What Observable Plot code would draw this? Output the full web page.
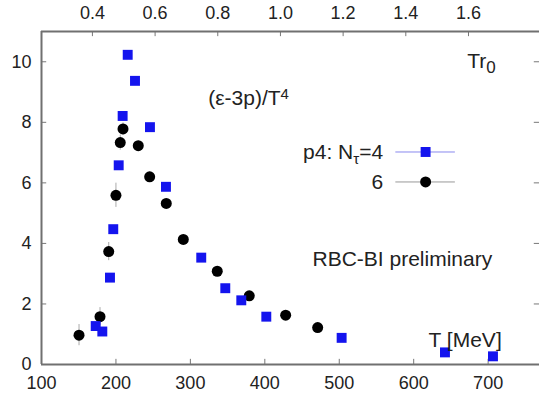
<!DOCTYPE html>
<html>
<head>
<meta charset="utf-8">
<script src="https://cdn.jsdelivr.net/npm/d3@7"></script>
<script src="https://cdn.jsdelivr.net/npm/@observablehq/plot@0.6"></script>
<style>
  html, body { margin: 0; padding: 0; background: #fff; }
  #chart svg { display: block; }
</style>
</head>
<body>
<div id="chart"></div>
<script>
// ---- data ----
const nt4T = [172.8, 181.7, 192.0, 196.4, 203.7, 209.0, 215.8, 225.6, 245.7, 267.2, 314.6, 346.9, 368.4, 402.0, 503.2, 642.0, 706.5];
const nt4V = [1.27, 1.09, 2.87, 4.47, 6.58, 8.21, 10.23, 9.37, 7.84, 5.87, 3.53, 2.52, 2.12, 1.58, 0.88, 0.40, 0.27];
const nt6T = [150.4, 178.6, 190.3, 200.0, 205.8, 209.5, 230.0, 245.3, 267.6, 290.5, 336.1, 379.1, 428.0, 471.0];
const nt6V = [0.97, 1.58, 3.73, 5.59, 7.33, 7.78, 7.23, 6.20, 5.32, 4.13, 3.08, 2.27, 1.63, 1.22];
const nt6Err = [0.35, 0.3, 0.3, 0.4, 0.25, 0.2, 0.15, 0.15, 0.12, 0.1, 0.1, 0.08, 0.08, 0.08];
const xTicks = [100, 200, 300, 400, 500, 600, 700];
const yTicks = [0, 2, 4, 6, 8, 10];
const topTicks = [0.4, 0.6, 0.8, 1.0, 1.2, 1.4, 1.6];
const T0 = 421; // MeV per unit of T r0
const seriesNames = ["p4: Nτ=4", "6"];

const nt4 = nt4T.map((t, i) => ({T: t, v: nt4V[i]}));
const nt6 = nt6T.map((t, i) => ({T: t, v: nt6V[i], e: nt6Err[i]}));

const blue = "#1414ee";
const font = "'Liberation Sans', Arial, Helvetica, sans-serif";

const plot = Plot.plot({
  width: 539,
  height: 403,
  marginLeft: 41,
  marginRight: 0,
  marginTop: 31,
  marginBottom: 39,
  style: {fontFamily: font, fontSize: "18px", color: "#222", background: "#fff"},
  x: {domain: [100, 769]},
  y: {domain: [0, 11]},
  marks: [
    Plot.axisX({anchor: "bottom", ticks: xTicks, tickSize: 0, tickPadding: 12, label: null, tickFormat: d => String(d)}),
    Plot.axisX({anchor: "top", ticks: topTicks.map(v => v * T0), tickSize: 0, tickPadding: 13, label: null, tickFormat: d => (d / T0).toFixed(1)}),
    Plot.axisY({anchor: "left", ticks: yTicks, tickSize: 0, tickPadding: 10, label: null, tickFormat: d => String(d)}),
    // inward tick marks
    Plot.ruleX(xTicks, {x: d => d, y1: 0, y2: 0.17, stroke: "#777", strokeWidth: 1}),
    Plot.ruleX(topTicks, {x: v => v * T0, y1: 11, y2: 10.83, stroke: "#777", strokeWidth: 1}),
    Plot.ruleY(yTicks, {y: d => d, x1: 100, x2: 107, stroke: "#777", strokeWidth: 1}),
    Plot.ruleY(yTicks, {y: d => d, x1: 762, x2: 769, stroke: "#777", strokeWidth: 1}),
    Plot.ruleX([100], {x: d => d, y1: 0, y2: 11, stroke: "#707070", strokeWidth: 2}),
    Plot.ruleY([0, 11], {y: d => d, x1: 100, x2: 769, stroke: "#707070", strokeWidth: 2}),
    // error bars
    Plot.ruleX(nt6, {x: "T", y1: d => d.v - d.e, y2: d => d.v + d.e, stroke: "#aaa", strokeWidth: 1}),
    // data
    Plot.dot(nt6, {x: "T", y: "v", r: 5.5, fill: "#000", stroke: "none"}),
    Plot.dot(nt4, {x: "T", y: "v", r: 5.6, symbol: "square", fill: blue, stroke: "none"}),
    // legend
    Plot.ruleY([7.02], {y: d => d, x1: 576, x2: 656, stroke: "#8888ee", strokeWidth: 1}),
    Plot.ruleY([6.03], {y: d => d, x1: 576, x2: 656, stroke: "#999", strokeWidth: 1}),
    Plot.dot([7.02], {x: 616, y: d => d, r: 5.6, symbol: "square", fill: blue}),
    Plot.dot([6.03], {x: 616, y: d => d, r: 5.5, fill: "#000"}),
    Plot.text([seriesNames[0]], {x: 559, y: 7.02, text: d => d, textAnchor: "end", fontSize: 21, fill: "#222"}),
    Plot.text([seriesNames[1]], {x: 559, y: 6.03, text: d => d, textAnchor: "end", fontSize: 21, fill: "#222"}),
    // annotations
    Plot.text(["(ε-3p)/T4"], {x: 324, y: 8.81, text: d => d, textAnchor: "start", fontSize: 21, fill: "#222"}),
    Plot.text(["Tr0"], {x: 672, y: 10.03, text: d => d, textAnchor: "start", fontSize: 21, fill: "#222"}),
    Plot.text(["RBC-BI preliminary"], {x: 464, y: 3.48, text: d => d, textAnchor: "start", fontSize: 21, fill: "#222"}),
    Plot.text(["T [MeV]"], {x: 620, y: 0.79, text: d => d, textAnchor: "start", fontSize: 21, fill: "#222"})
  ]
});

// sub/superscripts
d3.select(plot).selectAll("text").each(function() {
  const el = d3.select(this);
  const t = el.text();
  if (t === seriesNames[0]) {
    el.text(null);
    el.append("tspan").text("p4: N");
    el.append("tspan").attr("baseline-shift", "-30%").attr("font-size", "15").text("τ");
    el.append("tspan").attr("baseline-shift", "0%").text("=4");
  } else if (t === "(ε-3p)/T4") {
    el.text(null);
    el.append("tspan").text("(ε-3p)/T");
    el.append("tspan").attr("baseline-shift", "40%").attr("font-size", "15").text("4");
  } else if (t === "Tr0") {
    el.text(null);
    el.append("tspan").text("Tr");
    el.append("tspan").attr("baseline-shift", "-30%").attr("font-size", "17").text("0");
  }
});

document.getElementById("chart").appendChild(plot);
</script>
</body>
</html>
